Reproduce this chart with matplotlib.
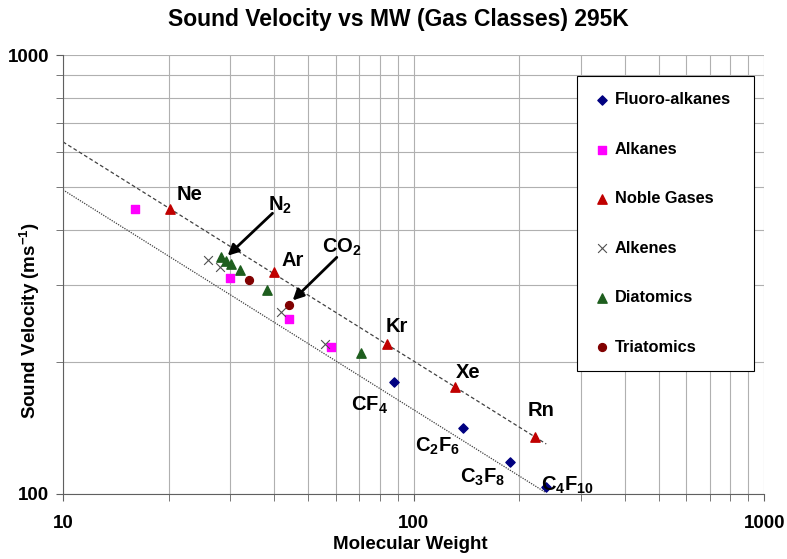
import numpy as np
import matplotlib.pyplot as plt
from matplotlib.ticker import LogLocator, NullFormatter, FixedLocator, FixedFormatter

plt.rcParams['font.family'] = ['Liberation Sans', 'DejaVu Sans']
plt.rcParams['mathtext.fontset'] = 'custom'
plt.rcParams['mathtext.rm'] = 'Liberation Sans'
plt.rcParams['mathtext.bf'] = 'Liberation Sans:bold'

# data (MW, sound velocity m/s)
fluoro_mw = [88, 138, 188, 238]
fluoro_v = [180, 141, 118, 104]
alkane_mw = [16, 30, 44, 58]
alkane_v = [445, 311, 251, 216]
noble_mw = [20.2, 39.9, 83.8, 131.3, 222]
noble_v = [445, 320, 220, 175, 135]
alkene_mw = [26, 28, 42, 56]
alkene_v = [341, 329, 260, 220]
diatomic_mw = [28.2, 29.1, 30.1, 32.0, 38.2, 71.0]
diatomic_v = [346, 340, 335, 324, 292, 209]
triatomic_mw = [34, 44]
triatomic_v = [308, 270]

# reference lines (end points)
upper_mw = [10, 239]
upper_v = [634, 130]
lower_mw = [10, 237]
lower_v = [493, 101]

labels = ['Ne', 'Ar', 'Kr', 'Xe', 'Rn', r'CF$_\mathregular{4}$', r'C$_\mathregular{2}$F$_\mathregular{6}$',
          r'C$_\mathregular{3}$F$_\mathregular{8}$', r'C$_\mathregular{4}$F$_\mathregular{10}$']
label_x = [23.0, 45.2, 89.3, 142.8, 231, 74.9, 117, 157.6, 274.6]
label_y = [481, 340, 240.6, 189, 154.7, 158.8, 128.7, 109, 104.9]

fig = plt.figure(figsize=(7.87, 5.59), dpi=100)
ax = fig.add_axes([0.080, 0.1163, 0.891, 0.7853])
ax.set_xscale('log')
ax.set_yscale('log')
ax.set_xlim(10, 1000)
ax.set_ylim(100, 1000)

ax.plot(upper_mw, upper_v, color='#404040', lw=0.9, ls=(0, (3, 2)))
ax.plot(lower_mw, lower_v, color='#404040', lw=0.9, ls=(0, (1, 1)))

ax.scatter(fluoro_mw, fluoro_v, marker='D', s=22, color='#000080', label='Fluoro-alkanes', zorder=3)
ax.scatter(alkane_mw, alkane_v, marker='s', s=32, color='#FF00FF', label='Alkanes', zorder=3)
ax.scatter(noble_mw, noble_v, marker='^', s=45, color='#C00000', label='Noble Gases', zorder=3)
ax.scatter(alkene_mw, alkene_v, marker='x', s=40, color='#505050', linewidths=0.8, label='Alkenes', zorder=3)
ax.scatter(diatomic_mw, diatomic_v, marker='^', s=45, color='#1E5E1E', label='Diatomics', zorder=3)
ax.scatter(triatomic_mw, triatomic_v, marker='o', s=32, color='#800000', label='Triatomics', zorder=3)

for t, x, y in zip(labels, label_x, label_y):
    ax.text(x, y, t, ha='center', va='center', fontsize=14.5, fontweight='bold')

arrow = dict(arrowstyle='-|>', color='black', lw=2, mutation_scale=16, shrinkA=0, shrinkB=0)
ax.text(41.5, 454, r'N$_\mathregular{2}$', ha='center', va='center', fontsize=14.5, fontweight='bold')
ax.annotate('', xy=(29.5, 349), xytext=(39.6, 436), arrowprops=arrow)
ax.text(62.4, 364, r'CO$_\mathregular{2}$', ha='center', va='center', fontsize=14.5, fontweight='bold')
ax.annotate('', xy=(45.2, 276), xytext=(60.4, 346), arrowprops=arrow)

# grid and axes styling
ax.grid(True, which='both', color='#B0B0B0', lw=0.8)
ax.set_axisbelow(True)
for s in ['top', 'right']:
    ax.spines[s].set_visible(False)
ax.spines['left'].set_color('#606060')
ax.spines['bottom'].set_color('#606060')
ax.xaxis.set_major_locator(FixedLocator([10, 100, 1000]))
ax.xaxis.set_major_formatter(FixedFormatter(['10', '100', '1000']))
ax.xaxis.set_minor_locator(LogLocator(base=10, subs=np.arange(2, 10)))
ax.xaxis.set_minor_formatter(NullFormatter())
ax.yaxis.set_major_locator(FixedLocator([100, 1000]))
ax.yaxis.set_major_formatter(FixedFormatter(['100', '1000']))
ax.yaxis.set_minor_locator(LogLocator(base=10, subs=np.arange(2, 10)))
ax.yaxis.set_minor_formatter(NullFormatter())
ax.tick_params(which='both', direction='out', length=5, color='#606060')
ax.tick_params(axis='x', pad=10)
ax.tick_params(axis='y', pad=5)
for lab in ax.get_xticklabels() + ax.get_yticklabels():
    lab.set_fontsize(13.5)
    lab.set_fontweight('bold')

ax.set_xlabel('Molecular Weight', fontsize=13.5, fontweight='bold', va='center')
ax.xaxis.set_label_coords(0.495, -0.115)
ax.set_ylabel(r'Sound Velocity (ms$^\mathregular{-1}$)', fontsize=13.5, fontweight='bold', va='center')
ax.yaxis.set_label_coords(-0.047, 0.396)
fig.text(0.506, 0.965, 'Sound Velocity vs MW (Gas Classes) 295K', ha='center', va='center',
         fontsize=16.5, fontweight='bold')

leg = ax.legend(loc='upper left', bbox_to_anchor=(0.733, 0.278, 0.2525, 0.674), mode='expand',
                borderaxespad=0, labelspacing=2.1, borderpad=1.0, handlelength=1.0, handletextpad=0.3,
                fancybox=False, edgecolor='black', framealpha=1,
                prop={'weight': 'bold', 'size': 11.8})
leg.get_frame().set_linewidth(0.8)

fig.savefig('out.png', dpi=100)
